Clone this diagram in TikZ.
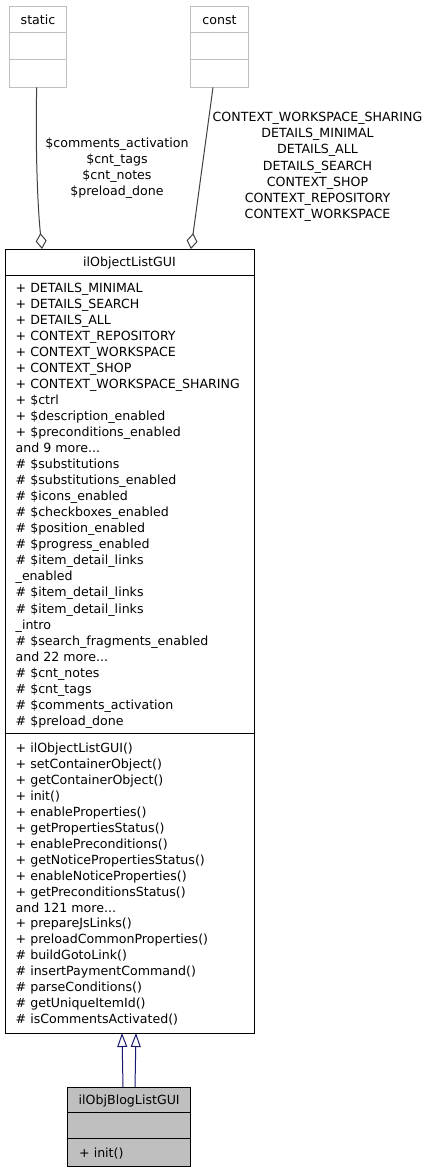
\documentclass[tikz,border=0pt]{standalone}
\usepackage{fontspec}
\setmainfont{DejaVu Sans}
\usetikzlibrary{arrows.meta, calc}
\definecolor{edgegray}{HTML}{404040}
\definecolor{boxgray}{HTML}{BFBFBF}
\definecolor{inhblue}{HTML}{191970}
\newcommand{\dgfont}{\fontsize{12.6pt}{16.2pt}\selectfont}
\newcommand{\threedots}{...}
\tikzset{
  ext/.style={draw=boxgray, fill=white, line width=1pt, minimum width=57.5pt, minimum height=81pt, inner sep=0pt},
  cls/.style={draw=black, line width=1pt, inner sep=0pt},
  member/.style={anchor=base west, inner sep=0pt, font=\dgfont},
  title/.style={anchor=base, inner sep=0pt, font=\dgfont},
  aggr/.style={draw=edgegray, line width=1pt, -{Diamond[open, length=16pt, width=11pt, fill=white]}},
  inh/.style={draw=inhblue, line width=1pt, -{Triangle[open, length=14pt, width=10pt, fill=white]}},
  elabel/.style={align=center, font=\dgfont, inner sep=0pt},
}

\begin{document}
\begin{tikzpicture}[x=1pt, y=1pt]
    \useasboundingbox (0,0) rectangle (429,-1173);
    \foreach \n/\x in {static/38, const/219.5} {
      \node[ext] (\n) at (\x,-46.5) {};
      \node[title] (\n-title) at (\x,-24) {\n};
      \draw[boxgray, line width=1pt] ([yshift=-27pt]\n.north west) -- ([yshift=-27pt]\n.north east);
      \draw[boxgray, line width=1pt] ([yshift=-54pt]\n.north west) -- ([yshift=-54pt]\n.north east);
    }
    \node[cls, fill=white, minimum width=249pt, minimum height=784pt] (objlist) at (129.5,-641) {};
    \node[title] (objlist-title) at (129.5,-266.5) {ilObjectListGUI};
    \draw ([yshift=-26.5pt]objlist.north west) -- ([yshift=-26.5pt]objlist.north east);
    \draw ([yshift=-485pt]objlist.north west) -- ([yshift=-485pt]objlist.north east);
    \foreach \t [count=\i from 0] in {+ DETAILS\_MINIMAL, + DETAILS\_SEARCH, + DETAILS\_ALL,
      + CONTEXT\_REPOSITORY, + CONTEXT\_WORKSPACE, + CONTEXT\_SHOP, + CONTEXT\_WORKSPACE\_SHARING,
      + \$ctrl, + \$description\_enabled, + \$preconditions\_enabled, and 9 more\threedots, \# \$substitutions,
      \# \$substitutions\_enabled, \# \$icons\_enabled, \# \$checkboxes\_enabled, \# \$position\_enabled,
      \# \$progress\_enabled, \# \$item\_detail\_links, \_enabled, \# \$item\_detail\_links,
      \# \$item\_detail\_links, \_intro, \# \$search\_fragments\_enabled, and 22 more\threedots,
      \# \$cnt\_notes, \# \$cnt\_tags, \# \$comments\_activation, \# \$preload\_done} {
      \node[member] (attr-\i) at (15.5,{-292-16.05*\i}) {\t};
    }
    \foreach \t [count=\i from 0] in {+ ilObjectListGUI(), + setContainerObject(), + getContainerObject(),
      + init(), + enableProperties(), + getPropertiesStatus(), + enablePreconditions(),
      + getNoticePropertiesStatus(), + enableNoticeProperties(), + getPreconditionsStatus(),
      and 121 more\threedots, + prepareJsLinks(), + preloadCommonProperties(), \# buildGotoLink(),
      \# insertPaymentCommand(), \# parseConditions(), \# getUniqueItemId(), \# isCommentsActivated()} {
      \node[member] (op-\i) at (15.5,{-752.5-15.95*\i}) {\t};
    }
    \node[cls, fill=boxgray, minimum width=123pt, minimum height=79pt] (blog) at (129.2,-1126.5) {};
    \node[title] (blog-title) at (129.2,-1104.5) {ilObjBlogListGUI};
    \draw ([yshift=-26pt]blog.north west) -- ([yshift=-26pt]blog.north east);
    \draw ([yshift=-52pt]blog.north west) -- ([yshift=-52pt]blog.north east);
    \node[member] (blog-op) at (79,-1157.5) {+ init()};
    \coordinate (objlist-p1) at (42,-249);
    \coordinate (objlist-p2) at (191,-249);
    \coordinate (objlist-p3) at (122,-1033);
    \coordinate (objlist-p4) at (136,-1033);
    \coordinate (blog-p1) at (123,-1087);
    \coordinate (blog-p2) at (135,-1087);
    \draw[aggr] ([xshift=-1.3pt]static.south) .. controls (35.5,-140) and (37,-200) .. (objlist-p1);
    \draw[aggr] ([xshift=-6.5pt]const.south) -- (objlist-p2);
    \draw[inh] (blog-p1) -- (objlist-p3);
    \draw[inh] (blog-p2) -- (objlist-p4);
    \node[elabel] (lbl-static) at (117,-168) {\$comments\_activation\\\$cnt\_tags\\\$cnt\_notes\\\$preload\_done};
    \node[elabel] (lbl-const) at (317.5,-167) {CONTEXT\_WORKSPACE\_SHARING\\DETAILS\_MINIMAL\\DETAILS\_ALL\\DETAILS\_SEARCH\\CONTEXT\_SHOP\\CONTEXT\_REPOSITORY\\CONTEXT\_WORKSPACE};
\end{tikzpicture}
\end{document}
